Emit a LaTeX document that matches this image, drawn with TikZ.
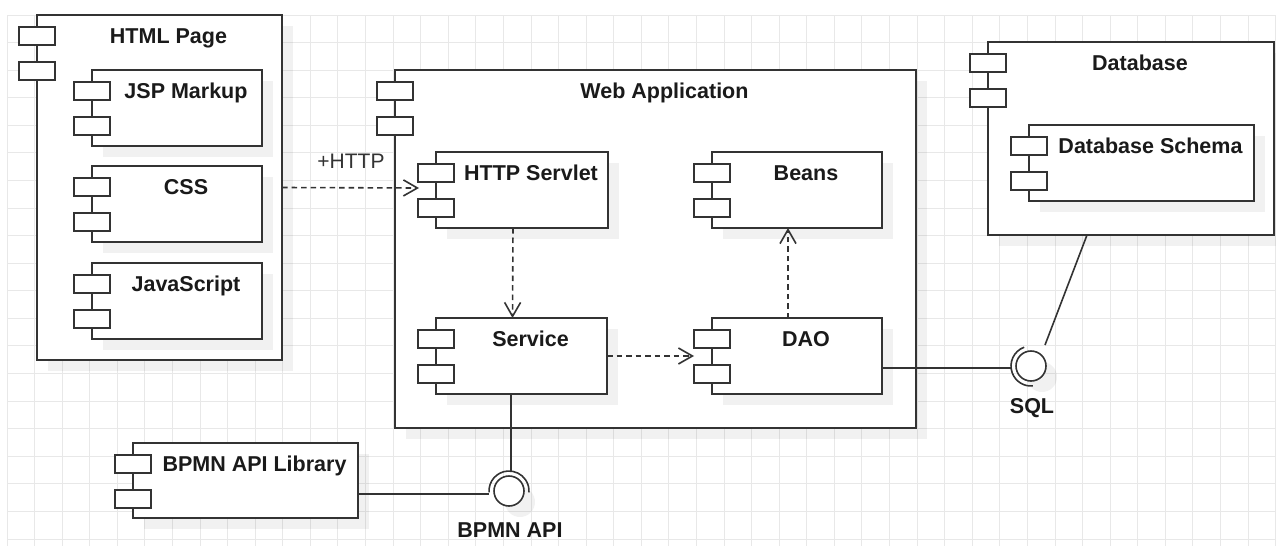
\documentclass[tikz,border=0pt]{standalone}
\usepackage{fontspec}
\setmainfont{Liberation Sans}
\usetikzlibrary{arrows.meta}
\definecolor{ln}{HTML}{333333}
\definecolor{tx}{HTML}{1A1A1A}
\definecolor{gridc}{HTML}{E8E8E8}
\newcommand{\umlcomp}[6]{%
  \fill[shade] ({#2+11},{#3+11}) rectangle ({#4+11},{#5+11});
  \node[compbox, minimum width={(#4)-(#2)}, minimum height={(#5)-(#3)}] (#1) at ({((#2)+(#4))/2},{((#3)+(#5))/2}) {};
  \draw[iconbox] ({#2-18},{#3+12}) rectangle ({#2+18},{#3+30});
  \draw[iconbox] ({#2-18},{#3+47}) rectangle ({#2+18},{#3+65});
  \node[lbl] (#1-t) at ({((#2)+18+(#4))/2},{#3+28.5}) {#6};
}
\begin{document}
\begin{tikzpicture}[x=1pt,y=-1pt,
 compbox/.style={draw=ln, fill=white, line width=1.6pt, inner sep=0pt, outer sep=0pt, rectangle},
 iconbox/.style={draw=ln, fill=white, line width=1.6pt},
 lbl/.style={font=\bfseries\fontsize{21.5}{25}\selectfont, text=tx, inner sep=0pt, anchor=base},
 plainlbl/.style={font=\fontsize{21}{25}\selectfont, text=ln, inner sep=0pt, anchor=base},
 dep/.style={draw=ln, line width=1.6pt, dash pattern=on 5.5pt off 4pt, -{Straight Barb[length=14pt,width=16pt,line width=1.6pt]}},
 conn/.style={draw=ln, line width=1.6pt},
 ball/.style={circle, draw=ln, fill=white, line width=1.6pt, minimum size=30pt, inner sep=0pt, outer sep=0pt},
 shade/.style={fill=black, fill opacity=0.055},
]
\useasboundingbox (0,0) rectangle (1276,546);
\fill[white] (0,0) rectangle (1276,546);
% grid
\foreach \i in {0,...,46} \draw[gridc, line width=1pt] ({7+27.58*\i},15) -- ({7+27.58*\i},546);
\foreach \j in {0,...,19} \draw[gridc, line width=1pt] (7,{15+27.58*\j}) -- (1276,{15+27.58*\j});

% HTML page
\umlcomp{html}{37}{15}{282}{360}{HTML Page}
\umlcomp{jsp}{92}{70}{262}{146}{JSP Markup}
\umlcomp{css}{92}{166}{262}{242}{CSS}
\umlcomp{js}{92}{263}{262}{339}{JavaScript}

% Web application
\umlcomp{web}{395}{70}{916}{428}{Web Application}
\umlcomp{servlet}{436}{152}{608}{228}{HTTP Servlet}
\umlcomp{beans}{712}{152}{882}{228}{Beans}
\umlcomp{service}{436}{318}{607}{394}{Service}
\umlcomp{dao}{712}{318}{882}{394}{DAO}

% Database
\umlcomp{db}{988}{42}{1274}{235}{Database}
\umlcomp{schema}{1029}{125}{1254}{201}{Database Schema}

% BPMN library
\umlcomp{lib}{133}{443}{358}{518}{BPMN API Library}

% interfaces
\fill[shade] (1042,377) circle[radius=15];
\node[ball] (sql) at (1031,366) {};
\draw[conn] ([shift={(-110:20)}]sql.center) arc[start angle=-110, end angle=-275, radius=20];
\node[lbl] (sqlt) at (1032,413) {SQL};

\fill[shade] (520,502) circle[radius=15];
\node[ball] (bpmn) at (509,491) {};
\draw[conn] ([shift={(-184:20)}]bpmn.center) arc[start angle=-184, end angle=4, radius=20];
\node[lbl] (bpmnt) at (510,537) {BPMN API};

% connectors
\coordinate (servletin) at (419,188);
\draw[dep] (html.east) -- (servletin);
\node[plainlbl] (httpt) at (351,168) {+HTTP};
\draw[dep] ([xshift=-9pt]servlet.south) -- ([xshift=-9pt]service.north);
\draw[dep] (service.east) -- ([xshift=-18pt]dao.west);
\draw[dep] ([xshift=-9pt]dao.north) -- ([xshift=-9pt]beans.south);

\coordinate (sqlin) at (1011,368);
\draw[conn] (dao.east |- sqlin) -- (sqlin);
\coordinate (sqltop) at (1045,345);
\draw[conn] ([xshift=-44pt]db.south) -- (sqltop);

\coordinate (bpmntop) at (511,471);
\draw[conn] (service.south -| bpmntop) -- (bpmntop);
\coordinate (bpmnleft) at (489,494);
\draw[conn] (lib.east |- bpmnleft) -- (bpmnleft);
\end{tikzpicture}
\end{document}
